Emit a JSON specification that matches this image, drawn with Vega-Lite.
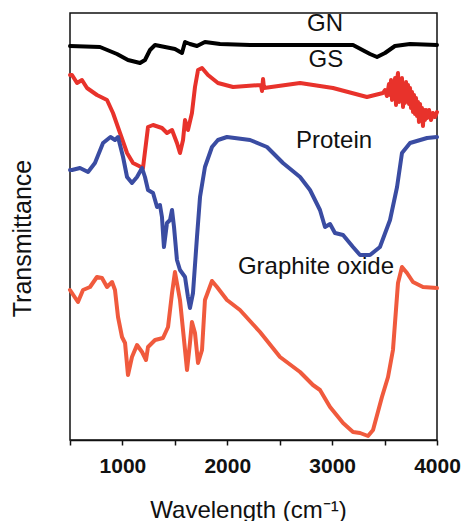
{
  "$schema": "https://vega.github.io/schema/vega-lite/v6.json",
  "width": 367,
  "height": 427,
  "autosize": {"type": "none"},
  "padding": {"left": 70, "top": 13, "right": 25, "bottom": 81},
  "background": "white",
  "config": {
    "view": {"stroke": "#111", "strokeWidth": 1.5},
    "font": "Liberation Sans"
  },
  "datasets": {
    "spectra": [
      {"s": "GN", "w": 500, "v": 394}, {"s": "GN", "w": 786, "v": 393}, {"s": "GN", "w": 948, "v": 386},
      {"s": "GN", "w": 1053, "v": 380}, {"s": "GN", "w": 1168, "v": 377}, {"s": "GN", "w": 1215, "v": 380},
      {"s": "GN", "w": 1263, "v": 390}, {"s": "GN", "w": 1311, "v": 395}, {"s": "GN", "w": 1406, "v": 393},
      {"s": "GN", "w": 1501, "v": 391}, {"s": "GN", "w": 1568, "v": 387}, {"s": "GN", "w": 1597, "v": 398},
      {"s": "GN", "w": 1644, "v": 396}, {"s": "GN", "w": 1711, "v": 394}, {"s": "GN", "w": 1787, "v": 398},
      {"s": "GN", "w": 1931, "v": 396}, {"s": "GN", "w": 2217, "v": 395}, {"s": "GN", "w": 2694, "v": 395},
      {"s": "GN", "w": 3199, "v": 395}, {"s": "GN", "w": 3361, "v": 386}, {"s": "GN", "w": 3428, "v": 383},
      {"s": "GN", "w": 3504, "v": 387}, {"s": "GN", "w": 3599, "v": 394}, {"s": "GN", "w": 3743, "v": 396},
      {"s": "GN", "w": 4000, "v": 395},

      {"s": "GS", "w": 500, "v": 365}, {"s": "GS", "w": 519, "v": 365}, {"s": "GS", "w": 567, "v": 357},
      {"s": "GS", "w": 614, "v": 360}, {"s": "GS", "w": 662, "v": 352}, {"s": "GS", "w": 757, "v": 345},
      {"s": "GS", "w": 853, "v": 340}, {"s": "GS", "w": 910, "v": 327}, {"s": "GS", "w": 977, "v": 307},
      {"s": "GS", "w": 1044, "v": 287}, {"s": "GS", "w": 1101, "v": 277}, {"s": "GS", "w": 1196, "v": 272},
      {"s": "GS", "w": 1244, "v": 313}, {"s": "GS", "w": 1292, "v": 315}, {"s": "GS", "w": 1377, "v": 312},
      {"s": "GS", "w": 1425, "v": 307}, {"s": "GS", "w": 1473, "v": 310}, {"s": "GS", "w": 1520, "v": 297},
      {"s": "GS", "w": 1549, "v": 287}, {"s": "GS", "w": 1578, "v": 300}, {"s": "GS", "w": 1597, "v": 320},
      {"s": "GS", "w": 1625, "v": 310}, {"s": "GS", "w": 1663, "v": 327}, {"s": "GS", "w": 1692, "v": 353},
      {"s": "GS", "w": 1721, "v": 370}, {"s": "GS", "w": 1759, "v": 372}, {"s": "GS", "w": 1816, "v": 365},
      {"s": "GS", "w": 1911, "v": 357}, {"s": "GS", "w": 2055, "v": 353}, {"s": "GS", "w": 2321, "v": 355},
      {"s": "GS", "w": 2331, "v": 349}, {"s": "GS", "w": 2341, "v": 361}, {"s": "GS", "w": 2350, "v": 352},
      {"s": "GS", "w": 2694, "v": 357}, {"s": "GS", "w": 3008, "v": 352}, {"s": "GS", "w": 3332, "v": 343},
      {"s": "GS", "w": 3485, "v": 347}, {"s": "GS", "w": 3504, "v": 350}, {"s": "GS", "w": 3523, "v": 344},
      {"s": "GS", "w": 3542, "v": 356}, {"s": "GS", "w": 3552, "v": 345}, {"s": "GS", "w": 3562, "v": 360},
      {"s": "GS", "w": 3571, "v": 340}, {"s": "GS", "w": 3581, "v": 358}, {"s": "GS", "w": 3590, "v": 342},
      {"s": "GS", "w": 3600, "v": 362}, {"s": "GS", "w": 3609, "v": 335}, {"s": "GS", "w": 3619, "v": 360},
      {"s": "GS", "w": 3628, "v": 367}, {"s": "GS", "w": 3638, "v": 338}, {"s": "GS", "w": 3647, "v": 355},
      {"s": "GS", "w": 3657, "v": 340}, {"s": "GS", "w": 3666, "v": 362}, {"s": "GS", "w": 3676, "v": 333},
      {"s": "GS", "w": 3686, "v": 352}, {"s": "GS", "w": 3695, "v": 337}, {"s": "GS", "w": 3705, "v": 358},
      {"s": "GS", "w": 3714, "v": 340}, {"s": "GS", "w": 3724, "v": 355}, {"s": "GS", "w": 3733, "v": 336},
      {"s": "GS", "w": 3743, "v": 352}, {"s": "GS", "w": 3752, "v": 332}, {"s": "GS", "w": 3762, "v": 348},
      {"s": "GS", "w": 3771, "v": 328}, {"s": "GS", "w": 3781, "v": 345}, {"s": "GS", "w": 3790, "v": 326},
      {"s": "GS", "w": 3800, "v": 342}, {"s": "GS", "w": 3809, "v": 324}, {"s": "GS", "w": 3819, "v": 338},
      {"s": "GS", "w": 3828, "v": 318}, {"s": "GS", "w": 3838, "v": 336}, {"s": "GS", "w": 3847, "v": 322},
      {"s": "GS", "w": 3857, "v": 332}, {"s": "GS", "w": 3866, "v": 314}, {"s": "GS", "w": 3876, "v": 330},
      {"s": "GS", "w": 3885, "v": 320}, {"s": "GS", "w": 3895, "v": 330}, {"s": "GS", "w": 3905, "v": 322},
      {"s": "GS", "w": 3924, "v": 330}, {"s": "GS", "w": 3943, "v": 320}, {"s": "GS", "w": 3962, "v": 327},
      {"s": "GS", "w": 3981, "v": 323}, {"s": "GS", "w": 4000, "v": 328},

      {"s": "Protein", "w": 500, "v": 270}, {"s": "Protein", "w": 519, "v": 270}, {"s": "Protein", "w": 595, "v": 272},
      {"s": "Protein", "w": 672, "v": 268}, {"s": "Protein", "w": 738, "v": 277}, {"s": "Protein", "w": 815, "v": 297},
      {"s": "Protein", "w": 886, "v": 303}, {"s": "Protein", "w": 929, "v": 300}, {"s": "Protein", "w": 958, "v": 303},
      {"s": "Protein", "w": 1006, "v": 283}, {"s": "Protein", "w": 1044, "v": 263}, {"s": "Protein", "w": 1091, "v": 257},
      {"s": "Protein", "w": 1139, "v": 263}, {"s": "Protein", "w": 1187, "v": 272}, {"s": "Protein", "w": 1215, "v": 263},
      {"s": "Protein", "w": 1244, "v": 250}, {"s": "Protein", "w": 1292, "v": 247}, {"s": "Protein", "w": 1330, "v": 233},
      {"s": "Protein", "w": 1358, "v": 235}, {"s": "Protein", "w": 1377, "v": 223}, {"s": "Protein", "w": 1396, "v": 193},
      {"s": "Protein", "w": 1425, "v": 217}, {"s": "Protein", "w": 1454, "v": 220}, {"s": "Protein", "w": 1473, "v": 230},
      {"s": "Protein", "w": 1492, "v": 213}, {"s": "Protein", "w": 1520, "v": 180}, {"s": "Protein", "w": 1549, "v": 170},
      {"s": "Protein", "w": 1597, "v": 163}, {"s": "Protein", "w": 1625, "v": 143}, {"s": "Protein", "w": 1644, "v": 132},
      {"s": "Protein", "w": 1673, "v": 147}, {"s": "Protein", "w": 1711, "v": 203}, {"s": "Protein", "w": 1740, "v": 243},
      {"s": "Protein", "w": 1787, "v": 273}, {"s": "Protein", "w": 1854, "v": 293}, {"s": "Protein", "w": 1911, "v": 300},
      {"s": "Protein", "w": 1997, "v": 303}, {"s": "Protein", "w": 2217, "v": 300}, {"s": "Protein", "w": 2379, "v": 293},
      {"s": "Protein", "w": 2531, "v": 277}, {"s": "Protein", "w": 2694, "v": 263}, {"s": "Protein", "w": 2789, "v": 250},
      {"s": "Protein", "w": 2884, "v": 230}, {"s": "Protein", "w": 2932, "v": 213}, {"s": "Protein", "w": 2980, "v": 216},
      {"s": "Protein", "w": 3027, "v": 207}, {"s": "Protein", "w": 3104, "v": 205}, {"s": "Protein", "w": 3199, "v": 193},
      {"s": "Protein", "w": 3266, "v": 185}, {"s": "Protein", "w": 3361, "v": 185}, {"s": "Protein", "w": 3456, "v": 193},
      {"s": "Protein", "w": 3552, "v": 220}, {"s": "Protein", "w": 3619, "v": 253}, {"s": "Protein", "w": 3666, "v": 287},
      {"s": "Protein", "w": 3743, "v": 297}, {"s": "Protein", "w": 3905, "v": 302}, {"s": "Protein", "w": 4000, "v": 303},

      {"s": "Graphite oxide", "w": 500, "v": 150}, {"s": "Graphite oxide", "w": 576, "v": 138}, {"s": "Graphite oxide", "w": 624, "v": 150},
      {"s": "Graphite oxide", "w": 691, "v": 153}, {"s": "Graphite oxide", "w": 757, "v": 163}, {"s": "Graphite oxide", "w": 805, "v": 162},
      {"s": "Graphite oxide", "w": 853, "v": 153}, {"s": "Graphite oxide", "w": 901, "v": 158}, {"s": "Graphite oxide", "w": 929, "v": 150},
      {"s": "Graphite oxide", "w": 958, "v": 123}, {"s": "Graphite oxide", "w": 996, "v": 103}, {"s": "Graphite oxide", "w": 1025, "v": 97},
      {"s": "Graphite oxide", "w": 1053, "v": 65}, {"s": "Graphite oxide", "w": 1091, "v": 83}, {"s": "Graphite oxide", "w": 1139, "v": 95},
      {"s": "Graphite oxide", "w": 1187, "v": 88}, {"s": "Graphite oxide", "w": 1225, "v": 80}, {"s": "Graphite oxide", "w": 1244, "v": 93},
      {"s": "Graphite oxide", "w": 1311, "v": 100}, {"s": "Graphite oxide", "w": 1387, "v": 102}, {"s": "Graphite oxide", "w": 1435, "v": 113},
      {"s": "Graphite oxide", "w": 1473, "v": 147}, {"s": "Graphite oxide", "w": 1501, "v": 168}, {"s": "Graphite oxide", "w": 1549, "v": 140},
      {"s": "Graphite oxide", "w": 1597, "v": 90}, {"s": "Graphite oxide", "w": 1616, "v": 70}, {"s": "Graphite oxide", "w": 1644, "v": 97},
      {"s": "Graphite oxide", "w": 1663, "v": 118}, {"s": "Graphite oxide", "w": 1692, "v": 107}, {"s": "Graphite oxide", "w": 1721, "v": 77},
      {"s": "Graphite oxide", "w": 1759, "v": 90}, {"s": "Graphite oxide", "w": 1787, "v": 140}, {"s": "Graphite oxide", "w": 1854, "v": 159},
      {"s": "Graphite oxide", "w": 1902, "v": 153}, {"s": "Graphite oxide", "w": 1997, "v": 140}, {"s": "Graphite oxide", "w": 2121, "v": 130},
      {"s": "Graphite oxide", "w": 2312, "v": 108}, {"s": "Graphite oxide", "w": 2503, "v": 83}, {"s": "Graphite oxide", "w": 2694, "v": 68},
      {"s": "Graphite oxide", "w": 2817, "v": 55}, {"s": "Graphite oxide", "w": 2884, "v": 50}, {"s": "Graphite oxide", "w": 2980, "v": 33},
      {"s": "Graphite oxide", "w": 3104, "v": 17}, {"s": "Graphite oxide", "w": 3199, "v": 8}, {"s": "Graphite oxide", "w": 3266, "v": 7},
      {"s": "Graphite oxide", "w": 3342, "v": 4}, {"s": "Graphite oxide", "w": 3390, "v": 10}, {"s": "Graphite oxide", "w": 3475, "v": 43},
      {"s": "Graphite oxide", "w": 3533, "v": 63}, {"s": "Graphite oxide", "w": 3580, "v": 90}, {"s": "Graphite oxide", "w": 3628, "v": 157},
      {"s": "Graphite oxide", "w": 3666, "v": 173}, {"s": "Graphite oxide", "w": 3714, "v": 167}, {"s": "Graphite oxide", "w": 3771, "v": 158},
      {"s": "Graphite oxide", "w": 3866, "v": 153}, {"s": "Graphite oxide", "w": 4000, "v": 152}
    ],
    "labels": [
      {"label": "GN", "w": 2932, "v": 409},
      {"label": "GS", "w": 2941, "v": 373},
      {"label": "Protein", "w": 3018, "v": 292},
      {"label": "Graphite oxide", "w": 2846, "v": 166}
    ]
  },
  "layer": [
    {
      "data": {"name": "spectra"},
      "mark": {"type": "line", "strokeWidth": 4, "strokeJoin": "round", "strokeCap": "round"},
      "encoding": {
        "x": {
          "field": "w", "type": "quantitative",
          "scale": {"domain": [500, 4000], "nice": false, "zero": false},
          "axis": {
            "values": [500, 1000, 1500, 2000, 2500, 3000, 3500, 4000],
            "labelExpr": "datum.value % 1000 === 0 ? format(datum.value, 'd') : ''",
            "grid": false,
            "domainColor": "#111", "domainWidth": 1.5,
            "tickColor": "#111", "tickWidth": 1.5, "tickSize": 5,
            "labelFont": "Liberation Sans", "labelFontWeight": "bold", "labelFontSize": 21,
            "labelColor": "#111", "labelBaseline": "alphabetic", "labelPadding": 27,
            "labelFlush": false, "labelOverlap": false,
            "title": "Wavelength  (cm⁻¹)",
            "titleFont": "Liberation Sans", "titleFontSize": 24, "titleFontWeight": "normal",
            "titleColor": "#111", "titleX": 178, "titleY": 77, "titleAlign": "center", "titleBaseline": "alphabetic"
          }
        },
        "y": {
          "field": "v", "type": "quantitative",
          "scale": {"domain": [0, 427], "nice": false, "zero": false},
          "axis": {
            "domain": false, "ticks": false, "labels": false, "grid": false,
            "title": "Transmittance",
            "titleFont": "Liberation Sans", "titleFontSize": 25, "titleFontWeight": "normal",
            "titleColor": "#111", "titleX": -48, "titleY": 225, "titleAngle": -90,
            "titleAlign": "center", "titleBaseline": "middle"
          }
        },
        "color": {
          "field": "s", "type": "nominal",
          "scale": {"domain": ["GN", "GS", "Protein", "Graphite oxide"], "range": ["#000000", "#e8322b", "#3a4ca2", "#f05a3d"]},
          "legend": null
        },
        "detail": {"field": "s"}
      }
    },
    {
      "data": {"name": "labels"},
      "mark": {"type": "text", "font": "Liberation Sans", "fontSize": 24, "align": "center", "baseline": "alphabetic", "color": "#111"},
      "encoding": {
        "x": {"field": "w", "type": "quantitative"},
        "y": {"field": "v", "type": "quantitative"},
        "text": {"field": "label"}
      }
    }
  ]
}
